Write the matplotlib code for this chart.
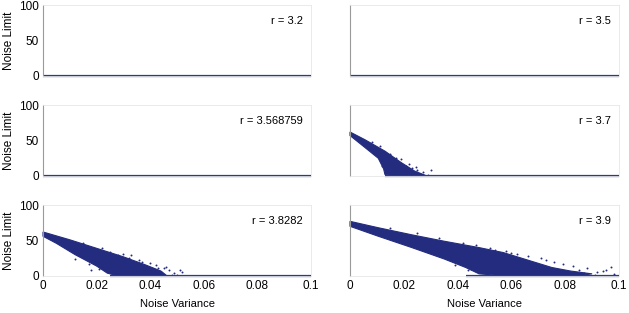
import matplotlib
matplotlib.use('Agg')
import matplotlib.pyplot as plt

plt.rcParams['font.family'] = ['Liberation Sans', 'DejaVu Sans']

navy = '#232c7e'

r_labels = ['r = 3.2', 'r = 3.5', 'r = 3.568759', 'r = 3.7', 'r = 3.8282', 'r = 3.9']

# where the noise limit line sits at 0 (start of flat part)
zero_start = [0.0, 0.0, 0.0, 0.013, 0.025, 0.043]

# dense cloud outlines (noise variance, noise limit)
cloud_37_x = [0.0, 0.0056, 0.013, 0.019, 0.024, 0.028, 0.022, 0.016, 0.013, 0.0125, 0.0105, 0.0056, 0.0]
cloud_37_y = [62, 51, 35, 19, 7, 1, 1, 1, 2, 10, 25, 40, 57]

cloud_38_x = [0.0, 0.01, 0.02, 0.03, 0.038, 0.044, 0.046, 0.035, 0.027, 0.024, 0.02, 0.012, 0.005, 0.0]
cloud_38_y = [62, 51, 39, 27, 16, 7, 1, 1, 1, 4, 14, 30, 46, 56]

cloud_39_x = [0.0, 0.0105, 0.023, 0.035, 0.048, 0.057, 0.063, 0.069, 0.075, 0.082, 0.09, 0.086,
              0.07, 0.055, 0.048, 0.043, 0.035, 0.023, 0.0105, 0.0]
cloud_39_y = [77, 68, 58, 49, 40, 33, 26, 19, 12, 7, 3, 1, 1, 1, 3, 12, 24, 40, 56, 70]

# scattered points outside the dense clouds
out_37_x = [0.025, 0.027, 0.03, 0.021, 0.026, 0.018, 0.023, 0.029, 0.02, 0.015, 0.017, 0.011,
            0.008, 0.012, 0.022, 0.0245, 0.019, 0.014]
out_37_y = [8, 5, 9, 14, 3, 20, 11, 2, 6, 31, 26, 42, 48, 14, 17, 12, 24, 6]

out_38_x = [0.047, 0.049, 0.051, 0.052, 0.045, 0.042, 0.048, 0.044, 0.04, 0.05, 0.036, 0.032,
            0.028, 0.026, 0.038, 0.046, 0.041, 0.034, 0.015, 0.022, 0.018, 0.025, 0.03, 0.008,
            0.012, 0.017, 0.021, 0.033, 0.037, 0.043]
out_38_y = [8, 4, 9, 6, 11, 15, 2, 5, 18, 2, 22, 26, 30, 18, 3, 13, 9, 6, 47, 40, 8, 34, 31, 52,
            24, 17, 10, 29, 20, 11]

out_39_x = [0.092, 0.095, 0.098, 0.088, 0.085, 0.083, 0.079, 0.076, 0.073, 0.08, 0.091, 0.087,
            0.094, 0.066, 0.062, 0.058, 0.04, 0.037, 0.045, 0.05, 0.031, 0.071, 0.068, 0.097,
            0.028, 0.025, 0.033, 0.042, 0.047, 0.052, 0.06, 0.015, 0.02, 0.044, 0.039, 0.054]
out_39_y = [5, 9, 3, 11, 8, 14, 17, 20, 22, 6, 2, 4, 7, 28, 31, 35, 20, 27, 10, 5, 34, 25, 18, 12,
            39, 61, 53, 46, 43, 39, 33, 68, 50, 8, 16, 36]

clouds = [None, None, None,
          (cloud_37_x, cloud_37_y, out_37_x, out_37_y),
          (cloud_38_x, cloud_38_y, out_38_x, out_38_y),
          (cloud_39_x, cloud_39_y, out_39_x, out_39_y)]

fig = plt.figure(figsize=(6.29, 3.13), dpi=100)

lefts = [43 / 629, 350 / 629]
widths = [268 / 629, 269 / 629]
tops = [5, 105, 205]
h = 71 / 313

for i in range(6):
    row, col = i // 2, i % 2
    ax = fig.add_axes([lefts[col], 1 - (tops[row] + 71) / 313, widths[col], h])
    ax.set_xlim(0, 0.1)
    ax.set_ylim(0, 100)
    for s in ['top', 'right', 'bottom']:
        ax.spines[s].set_color('#e6e6e6')
        ax.spines[s].set_linewidth(0.6)
    ax.spines['left'].set_color('#9a9a9a')
    ax.spines['left'].set_linewidth(0.8)
    ax.tick_params(length=0, labelsize=8.5, pad=3)
    ax.set_yticks([0, 50, 100])
    ax.set_xticks([0, 0.02, 0.04, 0.06, 0.08, 0.1])
    ax.set_xticklabels(['0', '0.02', '0.04', '0.06', '0.08', '0.1'])
    if col == 1:
        ax.set_yticklabels([])
    else:
        ax.set_ylabel('Noise Limit', fontsize=8.5, labelpad=3)
    if row < 2:
        ax.set_xticklabels([])
    else:
        ax.set_xlabel('Noise Variance', fontsize=8, labelpad=5)

    c = clouds[i]
    if c is not None:
        cx, cy, ox, oy = c
        ax.fill(cx, cy, color=navy, lw=0.8, ec=navy, clip_on=False)
        ax.scatter(ox, oy, s=2, color=navy, lw=0)
    ax.plot([zero_start[i], 0.1], [0, 0], color='#2b3a8f', lw=1.6, clip_on=False,
            solid_capstyle='butt')
    ax.text(0.97, 0.78, r_labels[i], transform=ax.transAxes, ha='right', va='center',
            fontsize=8)

fig.savefig('out.png', dpi=100)
